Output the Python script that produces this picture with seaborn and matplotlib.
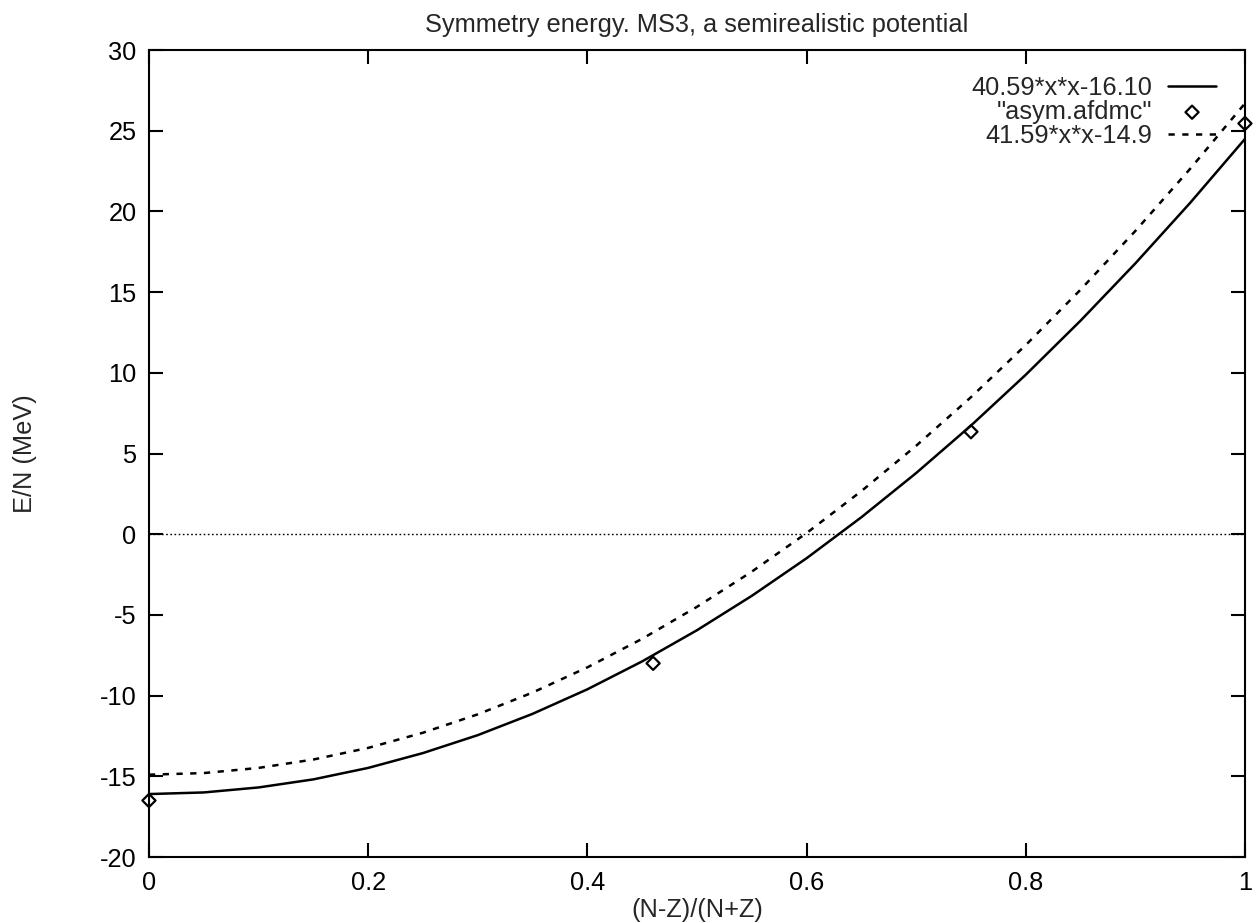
import matplotlib
matplotlib.use("Agg")
import matplotlib.pyplot as plt
import seaborn as sns

# x grid of the curves
x_curve = [0.00, 0.05, 0.10, 0.15, 0.20, 0.25, 0.30, 0.35, 0.40, 0.45, 0.50,
           0.55, 0.60, 0.65, 0.70, 0.75, 0.80, 0.85, 0.90, 0.95, 1.00]
# solid curve: 40.59*x*x-16.10
y_fit1 = [-16.10, -16.00, -15.69, -15.19, -14.48, -13.56, -12.45, -11.13, -9.61, -7.88, -5.95,
          -3.82, -1.49, 1.05, 3.79, 6.73, 9.88, 13.23, 16.78, 20.53, 24.49]
# dotted curve: 41.59*x*x-14.9
y_fit2 = [-14.90, -14.80, -14.48, -13.96, -13.24, -12.30, -11.16, -9.81, -8.25, -6.48, -4.50,
          -2.32, 0.07, 2.67, 5.48, 8.49, 11.72, 15.15, 18.79, 22.64, 26.69]
# "asym.afdmc" points
x_pts = [0.0, 0.46, 0.75, 1.0]
y_pts = [-16.5, -8.0, 6.35, 25.45]

labels = ["40.59*x*x-16.10", '"asym.afdmc"', "41.59*x*x-14.9"]
x_ticks = [0, 0.2, 0.4, 0.6, 0.8, 1]
y_ticks = [-20, -15, -10, -5, 0, 5, 10, 15, 20, 25, 30]

FS = 18.3

sns.set_style("ticks")
plt.rcParams["font.family"] = ["Liberation Sans", "DejaVu Sans"]
plt.rcParams["font.size"] = FS
plt.rcParams["axes.unicode_minus"] = False

fig = plt.figure(figsize=(12.56, 9.23), dpi=100)
ax = fig.add_axes([0.1186, 0.0715, 0.8726, 0.8743])

ax.axhline(0, color="black", lw=1.0, ls=(0, (1.2, 1.8)), zorder=1)

sns.lineplot(x=x_curve, y=y_fit1, ax=ax, color="black", lw=1.8, label=labels[0])
sns.scatterplot(x=x_pts, y=y_pts, ax=ax, marker="D", s=45, facecolor="none",
                edgecolor="black", linewidth=1.6, label=labels[1], zorder=3, clip_on=False)
sns.lineplot(x=x_curve, y=y_fit2, ax=ax, color="black", lw=1.8,
             ls=(0, (2.5, 3.0)), label=labels[2])

ax.set_xlim(0, 1)
ax.set_ylim(-20, 30)
ax.set_xticks(x_ticks)
ax.set_xticklabels(["0", "0.2", "0.4", "0.6", "0.8", "1"])
ax.set_yticks(y_ticks)
ax.tick_params(direction="in", length=10, width=1.5, top=True, right=True,
               labelsize=FS, colors="black")
ax.tick_params(axis="x", pad=10)
ax.tick_params(axis="y", pad=9)
for s in ax.spines.values():
    s.set_linewidth(1.5)
    s.set_color("black")

ax.set_title("Symmetry energy. MS3, a semirealistic potential", fontsize=FS, pad=13)
ax.set_xlabel("(N-Z)/(N+Z)", fontsize=FS, labelpad=2)
ax.set_ylabel("E/N (MeV)", fontsize=FS)
ax.yaxis.set_label_coords(-0.102, 0.5)

handles, lbls = ax.get_legend_handles_labels()
order = [lbls.index(l) for l in labels]
ax.legend([handles[i] for i in order], [lbls[i] for i in order],
          loc="upper right", markerfirst=False, frameon=False, fontsize=FS,
          handlelength=1.9, handletextpad=0.6, labelspacing=0.0,
          borderaxespad=0.3, bbox_to_anchor=(0.99, 0.99))

fig.savefig("out.png", dpi=100)
